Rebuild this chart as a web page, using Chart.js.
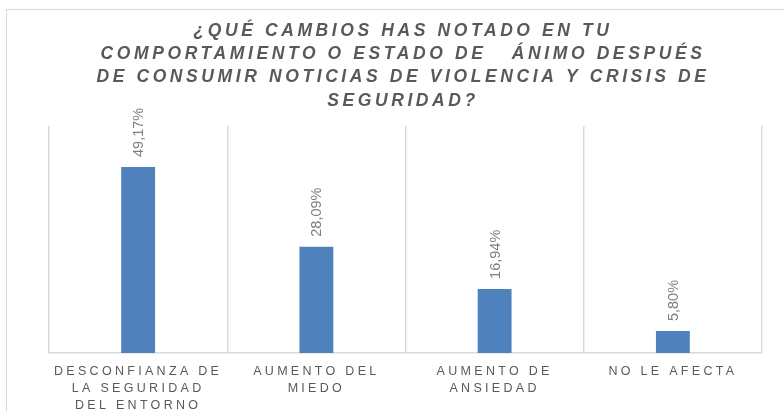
<!DOCTYPE html>
<html>
<head>
<meta charset="utf-8">
<script src="https://cdn.jsdelivr.net/npm/chart.js@4"></script>
<style>
  html, body { margin: 0; padding: 0; background: #fff; overflow: hidden; }
  #marco { position: absolute; left: 6px; top: 9px; width: 820px; height: 440px; border: 1.5px solid #d9d9d9; }
  #grafico { position: absolute; left: 0; top: 0; }
</style>
</head>
<body>
<div id="marco"></div>
<canvas id="grafico" width="784" height="411"></canvas>
<script>
const titulo = [
  "¿QUÉ CAMBIOS HAS NOTADO EN TU",
  "COMPORTAMIENTO O ESTADO DE   ÁNIMO DESPUÉS",
  "DE CONSUMIR NOTICIAS DE VIOLENCIA Y CRISIS DE",
  "SEGURIDAD?"
];
const categorias = [
  ["DESCONFIANZA DE", "LA SEGURIDAD", "DEL ENTORNO"],
  ["AUMENTO DEL", "MIEDO"],
  ["AUMENTO DE", "ANSIEDAD"],
  ["NO LE AFECTA"]
];
const porcentajes = [49.17, 28.09, 16.94, 5.80];

const gris = "#595959";

// espaciado de letras como en el original
const espaciado = {
  id: "espaciado",
  beforeLayout(chart) { chart.ctx.letterSpacing = "3.3px"; },
  beforeDraw(chart) { chart.ctx.letterSpacing = "3.3px"; }
};

const etiquetas = {
  id: "etiquetas",
  afterDatasetsDraw(chart) {
    const ctx = chart.ctx;
    const meta = chart.getDatasetMeta(0);
    ctx.save();
    ctx.letterSpacing = "0px";
    ctx.font = "14.5px 'Liberation Sans Narrow', 'Liberation Sans', Arial, sans-serif";
    ctx.fillStyle = "#7f7f7f";
    ctx.textAlign = "left";
    ctx.textBaseline = "middle";
    meta.data.forEach((barra, i) => {
      ctx.save();
      ctx.translate(barra.x + 1, barra.y - 10);
      ctx.rotate(-Math.PI / 2);
      ctx.fillText(porcentajes[i].toFixed(2).replace(".", ",") + "%", 0, 0);
      ctx.restore();
    });
    ctx.restore();
  }
};

const encabezado = {
  id: "encabezado",
  afterDraw(chart) {
    const ctx = chart.ctx;
    ctx.save();
    ctx.letterSpacing = "3.6px";
    ctx.font = "italic bold 17.5px 'Liberation Sans', Arial, sans-serif";
    ctx.fillStyle = gris;
    ctx.textAlign = "center";
    ctx.textBaseline = "middle";
    titulo.forEach((linea, i) => {
      ctx.fillText(linea, 403, 31 + i * 23.3);
    });
    ctx.restore();
  }
};

new Chart(document.getElementById("grafico"), {
  type: "bar",
  data: {
    labels: categorias,
    datasets: [{
      data: porcentajes,
      backgroundColor: "#4f81bd",
      barPercentage: 0.19,
      categoryPercentage: 1
    }]
  },
  options: {
    responsive: false,
    animation: false,
    layout: { padding: { left: 49, right: 22, top: 126, bottom: 0 } },
    plugins: { legend: { display: false }, tooltip: { enabled: false } },
    scales: {
      x: {
        grid: { color: "#d9d9d9", lineWidth: 1.5, offset: true, drawTicks: false },
        border: { color: "#d9d9d9", width: 1.5 },
        ticks: {
          color: gris,
          padding: 10,
          maxRotation: 0,
          autoSkip: false,
          font: { family: "'Liberation Sans', Arial, sans-serif", size: 12.5, lineHeight: "17px" }
        },
        afterFit(scale) { scale.height = 58; }
      },
      y: {
        display: false,
        min: 0,
        max: 60
      }
    }
  },
  plugins: [espaciado, etiquetas, encabezado]
});
</script>
</body>
</html>
